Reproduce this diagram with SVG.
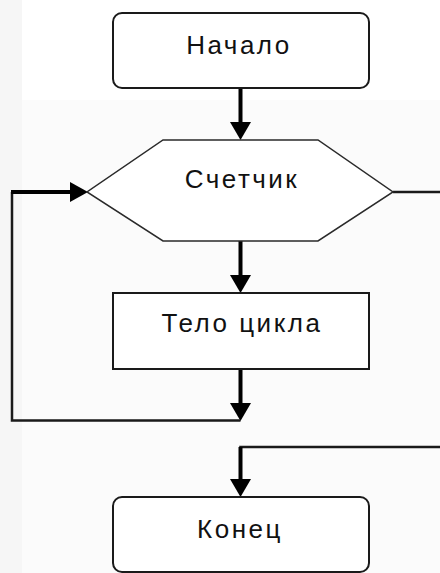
<svg xmlns="http://www.w3.org/2000/svg" width="440" height="573" viewBox="0 0 440 573">
  <defs>
    <style>
      .shape { fill: #ffffff; stroke: #1a1a1a; stroke-width: 2; }
      .hex { fill: #ffffff; stroke: #2a2a2a; stroke-width: 1.5; }
      .label { font-family: "Liberation Sans", "DejaVu Sans", sans-serif; font-size: 26px; letter-spacing: 2.5px; fill: #111111; text-anchor: middle; }
      .flow { fill: none; stroke: #000000; stroke-width: 4; }
      .thin { fill: none; stroke: #1a1a1a; stroke-width: 2.5; }
      .head { fill: #000000; }
    </style>
  </defs>
  <rect x="0" y="0" width="440" height="573" fill="#ffffff"/>
  <rect x="0" y="100" width="440" height="473" fill="#fbfbfb"/>
  <rect x="0" y="0" width="22" height="573" fill="#f6f6f6"/>

  <g id="connectors">
    <!-- Начало -> Счетчик -->
    <line class="flow" x1="240.5" y1="88" x2="240.5" y2="124"/>
    <polygon class="head" points="230,122 251,122 240.5,140"/>
    <!-- Счетчик -> Тело цикла -->
    <line class="flow" x1="240.5" y1="241" x2="240.5" y2="277"/>
    <polygon class="head" points="230,275 251,275 240.5,293"/>
    <!-- Тело цикла -> loop back -->
    <line class="flow" x1="240.5" y1="369" x2="240.5" y2="405"/>
    <polygon class="head" points="230,403 251,403 240.5,421"/>
    <polyline class="thin" points="240.5,420.5 12,420.5 12,192"/>
    <line class="flow" x1="11" y1="192" x2="72" y2="192"/>
    <polygon class="head" points="70,182 70,202 88,192"/>
    <!-- Счетчик exit -> Конец -->
    <line class="thin" x1="393" y1="192" x2="440" y2="192"/>
    <polyline class="thin" points="440,447 240.5,447 240.5,480"/>
    <line class="flow" x1="240.5" y1="447" x2="240.5" y2="481"/>
    <polygon class="head" points="230,479 251,479 240.5,497"/>
  </g>

  <g id="start">
    <rect class="shape" x="113" y="13" width="256" height="75" rx="9" ry="9"/>
    <text class="label" x="239" y="54">Начало</text>
  </g>

  <g id="counter">
    <polygon class="hex" points="163,140 318,140 393,192 318,241 163,241 87,192"/>
    <text class="label" x="242" y="188">Счетчик</text>
  </g>

  <g id="body">
    <rect class="shape" x="113" y="293" width="256" height="76"/>
    <text class="label" x="242" y="332">Тело цикла</text>
  </g>

  <g id="end">
    <rect class="shape" x="113" y="497" width="256" height="75" rx="9" ry="9"/>
    <text class="label" x="240" y="538">Конец</text>
  </g>
</svg>
